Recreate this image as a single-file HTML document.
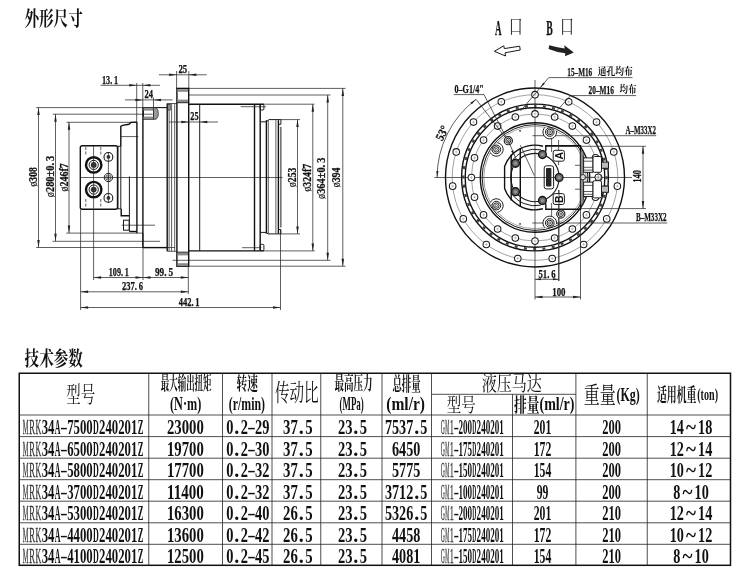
<!DOCTYPE html>
<html lang="zh"><head><meta charset="utf-8"><title>MRK34A</title><style>
html,body{margin:0;padding:0;background:#fff}
#page{filter:blur(.4px);will-change:transform;position:relative;width:748px;height:584px;background:#fff;overflow:hidden;font-family:"Liberation Serif",serif}
svg{position:absolute;left:0;top:0;overflow:visible}
svg *{vector-effect:none}
.t{stroke:#2a2a2a;stroke-width:.75;fill:none}
.t2{stroke:#444;stroke-width:.5;fill:none}
.t3{stroke:#888;stroke-width:.45;fill:none}
.m{stroke:#1c1c1c;stroke-width:1;fill:none}
.k{stroke:#111;stroke-width:1.4;fill:none}
.h{stroke:#1a1a1a;stroke-width:1.05;fill:#fff}
.n{fill:none}
.fd{fill:#333;stroke:none}
.ah{fill:#222;stroke:none}
text{font-family:"Liberation Serif",serif;fill:#111}
.cjt{font-family:"Liberation Serif","Noto Serif CJK SC",serif;fill:#111}
.cjb{font-weight:bold}
.d{font-weight:bold;stroke:#111;stroke-width:.25}
.tb{font-weight:bold}
.ph{font-weight:normal;stroke-width:.15}
.sb{font-family:"Liberation Sans",sans-serif;font-weight:bold}
.tl2{font-weight:normal;fill:#222}
.lt{font-weight:normal;fill:#333;stroke:#333;stroke-width:.3}
.lt2{font-weight:normal;fill:#444}
.tl{stroke:#222;stroke-width:.8}
</style></head>
<body><div id="page">
<svg id="art" width="748" height="584" viewBox="0 0 748 584">
<g><text class="cjt cjb" x="24.39" y="25.87" font-size="19.9" textLength="58.4" lengthAdjust="spacingAndGlyphs">外形尺寸</text><text class="cjt cjb" x="24.61" y="365.85" font-size="20.3" textLength="58.1" lengthAdjust="spacingAndGlyphs">技术参数</text></g>
<line class="t" x1="36.2" y1="107.6" x2="167.2" y2="107.6"/>
<line class="t" x1="36.2" y1="247.5" x2="175" y2="247.5"/>
<line class="t" x1="52.8" y1="114.2" x2="152.7" y2="114.2"/>
<line class="t" x1="52.6" y1="241.3" x2="160" y2="241.3"/>
<line class="t" x1="66.5" y1="122.3" x2="137" y2="122.3"/>
<line class="t" x1="66.3" y1="233.1" x2="143" y2="233.1"/>
<line class="t" x1="38.5" y1="107.6" x2="38.5" y2="247.5"/>
<path class="ah" d="M38.5 107.6L39.75 115.1L37.25 115.1Z"/>
<path class="ah" d="M38.5 247.5L37.25 240L39.75 240Z"/>
<line class="t" x1="55.5" y1="114.2" x2="55.5" y2="241.3"/>
<path class="ah" d="M55.5 114.2L56.75 121.7L54.25 121.7Z"/>
<path class="ah" d="M55.5 241.3L54.25 233.8L56.75 233.8Z"/>
<line class="t" x1="69" y1="122.3" x2="69" y2="233.1"/>
<path class="ah" d="M69 122.3L70.25 129.8L67.75 129.8Z"/>
<path class="ah" d="M69 233.1L67.75 225.6L70.25 225.6Z"/>
<text class="d" x="0" y="0" font-size="12" textLength="19.3" lengthAdjust="spacingAndGlyphs" transform="translate(36.6 186.5) rotate(-90)"><tspan class="ph">&#248;</tspan>308</text>
<text class="d" x="0" y="0" font-size="12" textLength="41.5" lengthAdjust="spacingAndGlyphs" transform="translate(53.6 197.2) rotate(-90)"><tspan class="ph">&#248;</tspan>280&#177;0.&#8201;3</text>
<text class="d" x="0" y="0" font-size="12" textLength="28.3" lengthAdjust="spacingAndGlyphs" transform="translate(67.5 191.5) rotate(-90)"><tspan class="ph">&#248;</tspan>246f7</text>
<line class="t" x1="280.9" y1="119.6" x2="300" y2="119.6"/>
<line class="t" x1="280.9" y1="233.9" x2="300" y2="233.9"/>
<line class="t" x1="263.9" y1="104.2" x2="314.5" y2="104.2"/>
<line class="t" x1="263.9" y1="250.9" x2="314.8" y2="250.9"/>
<line class="t" x1="188.8" y1="95" x2="330.5" y2="95"/>
<line class="t" x1="172.5" y1="260.3" x2="330.5" y2="260.3"/>
<line class="t" x1="188.8" y1="88.4" x2="345.5" y2="88.4"/>
<line class="t" x1="188.3" y1="266.2" x2="345.5" y2="266.2"/>
<line class="t" x1="297.5" y1="119.6" x2="297.5" y2="233.9"/>
<path class="ah" d="M297.5 119.6L298.75 127.1L296.25 127.1Z"/>
<path class="ah" d="M297.5 233.9L296.25 226.4L298.75 226.4Z"/>
<line class="t" x1="312.8" y1="104.2" x2="312.8" y2="250.9"/>
<path class="ah" d="M312.8 104.2L314.05 111.7L311.55 111.7Z"/>
<path class="ah" d="M312.8 250.9L311.55 243.4L314.05 243.4Z"/>
<line class="t" x1="327.7" y1="95" x2="327.7" y2="260.3"/>
<path class="ah" d="M327.7 95L328.95 102.5L326.45 102.5Z"/>
<path class="ah" d="M327.7 260.3L326.45 252.8L328.95 252.8Z"/>
<line class="t" x1="342.8" y1="88.4" x2="342.8" y2="266.2"/>
<path class="ah" d="M342.8 88.4L344.05 95.9L341.55 95.9Z"/>
<path class="ah" d="M342.8 266.2L341.55 258.7L344.05 258.7Z"/>
<text class="d" x="0" y="0" font-size="12" textLength="19.3" lengthAdjust="spacingAndGlyphs" transform="translate(296.3 187) rotate(-90)"><tspan class="ph">&#248;</tspan>253</text>
<text class="d" x="0" y="0" font-size="12" textLength="27.6" lengthAdjust="spacingAndGlyphs" transform="translate(310.7 191.5) rotate(-90)"><tspan class="ph">&#248;</tspan>324f7</text>
<text class="d" x="0" y="0" font-size="12" textLength="41.4" lengthAdjust="spacingAndGlyphs" transform="translate(325.2 199) rotate(-90)"><tspan class="ph">&#248;</tspan>364&#177;0.&#8201;3</text>
<text class="d" x="0" y="0" font-size="12" textLength="19.8" lengthAdjust="spacingAndGlyphs" transform="translate(340.3 187.3) rotate(-90)"><tspan class="ph">&#248;</tspan>394</text>
<line class="t" x1="176.6" y1="71" x2="176.6" y2="88.3"/>
<line class="t" x1="188.8" y1="71" x2="188.8" y2="88.3"/>
<line class="t" x1="158.9" y1="74.8" x2="206.7" y2="74.8"/>
<path class="ah" d="M176.6 74.8L169.1 76.05L169.1 73.55Z"/>
<path class="ah" d="M188.8 74.8L196.3 73.55L196.3 76.05Z"/>
<text class="d" x="178.4" y="73.3" font-size="12" textLength="8.8" lengthAdjust="spacingAndGlyphs">25</text>
<line class="t" x1="100.7" y1="85.3" x2="160" y2="85.3"/>
<line class="t" x1="136.7" y1="83" x2="136.7" y2="122"/>
<line class="t" x1="142.8" y1="83" x2="142.8" y2="108"/>
<path class="ah" d="M136.7 85.3L129.2 86.55L129.2 84.05Z"/>
<path class="ah" d="M142.8 85.3L150.3 84.05L150.3 86.55Z"/>
<text class="d" x="102" y="83.8" font-size="12" textLength="16" lengthAdjust="spacingAndGlyphs">13.&#8201;1</text>
<line class="t" x1="125" y1="99.9" x2="172.5" y2="99.9"/>
<line class="t" x1="153.5" y1="97.5" x2="153.5" y2="107.6"/>
<path class="ah" d="M142.8 99.9L135.3 101.15L135.3 98.65Z"/>
<path class="ah" d="M153.5 99.9L161 98.65L161 101.15Z"/>
<text class="d" x="144.5" y="97.7" font-size="12" textLength="8.5" lengthAdjust="spacingAndGlyphs">24</text>
<line class="t" x1="169" y1="122" x2="218" y2="122"/>
<path class="ah" d="M188.8 122L181.3 123.25L181.3 120.75Z"/>
<path class="ah" d="M199.8 122L207.3 120.75L207.3 123.25Z"/>
<text class="d" x="190.3" y="120.4" font-size="12" textLength="8.2" lengthAdjust="spacingAndGlyphs">25</text>
<line class="t" x1="80.6" y1="209.5" x2="80.6" y2="310"/>
<line class="t" x1="93.6" y1="209.5" x2="93.6" y2="280"/>
<line class="t" x1="143" y1="233" x2="143" y2="280"/>
<line class="t" x1="188.3" y1="267" x2="188.3" y2="294"/>
<line class="t" x1="280.5" y1="230" x2="280.5" y2="310"/>
<line class="t" x1="93.6" y1="277.5" x2="188.3" y2="277.5"/>
<path class="ah" d="M93.6 277.5L101.1 276.25L101.1 278.75Z"/>
<path class="ah" d="M143 277.5L135.5 278.75L135.5 276.25Z"/>
<path class="ah" d="M143 277.5L150.5 276.25L150.5 278.75Z"/>
<path class="ah" d="M188.3 277.5L180.8 278.75L180.8 276.25Z"/>
<text class="d" x="108.75" y="275.8" font-size="12" textLength="20" lengthAdjust="spacingAndGlyphs">109.&#8201;1</text>
<text class="d" x="155" y="275.8" font-size="12" textLength="18" lengthAdjust="spacingAndGlyphs">99.&#8201;5</text>
<line class="t" x1="80.6" y1="291.8" x2="188.3" y2="291.8"/>
<path class="ah" d="M80.6 291.8L88.1 290.55L88.1 293.05Z"/>
<path class="ah" d="M188.3 291.8L180.8 293.05L180.8 290.55Z"/>
<text class="d" x="122" y="290" font-size="12" textLength="21" lengthAdjust="spacingAndGlyphs">237.&#8201;6</text>
<line class="t" x1="80.6" y1="307.5" x2="280.5" y2="307.5"/>
<path class="ah" d="M80.6 307.5L88.1 306.25L88.1 308.75Z"/>
<path class="ah" d="M280.5 307.5L273 308.75L273 306.25Z"/>
<text class="d" x="178.75" y="305.6" font-size="12" textLength="20.75" lengthAdjust="spacingAndGlyphs">442.&#8201;1</text>
<line class="t" x1="80.3" y1="177.5" x2="282.5" y2="177.5"/>
<rect class="k" x="80.3" y="145.8" width="37.2" height="63.4" rx="2"/>
<line class="t" stroke-dasharray="3 1.5" x1="85.8" y1="147" x2="85.8" y2="156"/>
<line class="t" stroke-dasharray="3 1.5" x1="85.8" y1="199" x2="85.8" y2="208"/>
<line class="t" stroke-dasharray="3 1.5" x1="100.8" y1="147" x2="100.8" y2="156"/>
<line class="t" stroke-dasharray="3 1.5" x1="100.8" y1="199" x2="100.8" y2="208"/>
<line class="t" x1="93.6" y1="146" x2="93.6" y2="208.8"/>
<circle class="k" cx="93.7" cy="164.9" r="7.7" style="stroke-width:2.4"/>
<circle class="m" cx="93.7" cy="164.9" r="4.6"/>
<circle class="fd" cx="93.7" cy="164.9" r="2.9"/>
<circle class="k" cx="93.7" cy="189.6" r="7.7" style="stroke-width:2.4"/>
<circle class="m" cx="93.7" cy="189.6" r="4.6"/>
<circle class="fd" cx="93.7" cy="189.6" r="2.9"/>
<line class="t" x1="108.4" y1="152" x2="108.4" y2="203"/>
<circle class="m" cx="108.4" cy="156.9" r="4.4" style="stroke-width:1.1"/>
<circle class="fd" cx="108.4" cy="156.9" r="1.9"/>
<circle class="m" cx="108.4" cy="197.9" r="4.4" style="stroke-width:1.1"/>
<circle class="fd" cx="108.4" cy="197.9" r="1.9"/>
<circle class="m" cx="108.4" cy="177.5" r="4.2"/>
<circle class="t" cx="108.4" cy="177.5" r="2.6"/>
<circle class="t" cx="108.4" cy="177.5" r="1.1"/>
<rect class="m" x="117.9" y="146.3" width="2.9" height="62.5"/>
<path class="k" d="M120.8 146V126.3L122.6 125.3L128.9 124.3L130.8 122.4L137 122.1"/>
<line class="t" x1="120.8" y1="136.6" x2="138.3" y2="136.6"/>
<path class="k" d="M121.2 208.8V215.8H129.2"/>
<line class="m" x1="129.4" y1="176.5" x2="129.4" y2="231.5"/>
<path class="k" d="M129.4 231.5H136.9"/>
<rect class="m" x="123.5" y="220.2" width="5.7" height="10"/>
<line class="t" x1="121.6" y1="225.2" x2="155" y2="225.2"/>
<line class="k" x1="136.9" y1="122" x2="136.9" y2="233.3"/>
<line class="k" x1="142.9" y1="107.6" x2="142.9" y2="247.6"/>
<line class="k" x1="142.9" y1="247.6" x2="167" y2="247.6"/>
<line class="m" x1="153.5" y1="107.6" x2="167" y2="107.6"/>
<rect class="m" x="143.5" y="107.8" width="10" height="11.4"/>
<rect x="143.5" y="108.2" width="10" height="2.4" style="fill:#8a8a8a"/><rect x="143.5" y="116.6" width="10" height="2.4" style="fill:#8a8a8a"/>
<path class="t" d="M153.5 107.8H156.2Q158.6 110 158.4 113.5Q158.6 117 156.2 119.2H153.5Z" style="fill:#999"/>
<line class="k" x1="167.2" y1="103.5" x2="167.2" y2="251.3"/>
<line class="t" x1="169.1" y1="103.5" x2="169.1" y2="251.3"/>
<line class="t" x1="171.6" y1="103.5" x2="171.6" y2="251.3"/>
<line class="t" x1="174.7" y1="103.5" x2="174.7" y2="251.3"/>
<line class="t" x1="167.2" y1="103.5" x2="177" y2="103.5"/>
<line class="t" x1="167.2" y1="251.3" x2="177" y2="251.3"/>
<rect class="t" x="168" y="104.3" width="2.3" height="5.7"/>
<rect class="k" x="176.9" y="88.4" width="11.8" height="177.8"/>
<rect x="177.6" y="89.2" width="10.4" height="2.6" style="fill:#8a8a8a"/>
<rect x="177.6" y="99.6" width="10.4" height="2.6" style="fill:#8a8a8a"/>
<rect x="177.6" y="252.8" width="10.4" height="2.6" style="fill:#8a8a8a"/>
<rect x="177.6" y="263.2" width="10.4" height="2.6" style="fill:#8a8a8a"/>
<line class="m" x1="176.9" y1="102.7" x2="188.7" y2="102.7"/>
<line class="m" x1="176.9" y1="252.2" x2="188.7" y2="252.2"/>
<line class="k" x1="188.7" y1="104.2" x2="263.9" y2="104.2"/>
<line class="k" x1="188.7" y1="250.9" x2="263.9" y2="250.9"/>
<line class="m" x1="199.7" y1="104.2" x2="199.7" y2="250.9"/>
<line class="k" x1="254.5" y1="104.2" x2="254.5" y2="250.9"/>
<line class="k" x1="260.2" y1="104.2" x2="260.2" y2="250.9"/>
<rect class="m" x="260.2" y="104.4" width="3.7" height="5.6" rx="1"/>
<rect class="m" x="260.2" y="244.4" width="3.7" height="6.3" rx="1"/>
<line class="t" x1="240.7" y1="106.7" x2="265.8" y2="106.7"/>
<line class="t" x1="242" y1="247.7" x2="261.4" y2="247.7"/>
<path class="m" d="M260.2 121.8H266.4L269 119.6H280.9V124.3H278.4"/>
<path class="m" d="M260.2 232.4H266.4L268 233.9H280.9V229.5H278.4"/>
<line class="k" x1="266.4" y1="120.2" x2="266.4" y2="233.6"/>
<line class="t" x1="268.3" y1="120.2" x2="268.3" y2="233.6"/>
<line class="t" x1="275.9" y1="120.2" x2="275.9" y2="233.6"/>
<line class="k" x1="278.4" y1="120.2" x2="278.4" y2="233.6"/>
<line class="m" x1="280.9" y1="126.8" x2="280.9" y2="227.5"/>
<line class="t" x1="535" y1="80" x2="535" y2="299.5"/>
<line class="t" x1="434.4" y1="177.5" x2="632" y2="177.5"/>
<circle class="k" cx="535" cy="177.5" r="89.5"/>
<circle class="t2" cx="535" cy="177.5" r="82.8"/>
<circle class="k" cx="535" cy="177.5" r="73.4"/>
<circle class="k" cx="535" cy="177.5" r="69.8"/>
<circle class="t2" cx="535" cy="177.5" r="63.6"/>
<circle class="k" cx="535" cy="177.5" r="54.7" stroke-width="1.5"/>
<circle class="m" cx="535" cy="177.5" r="52.9"/>
<circle class="t2" cx="535" cy="177.5" r="51.2"/>
<circle class="n" cx="535" cy="177.5" r="71.6" stroke="#444" stroke-width="2.4" stroke-dasharray="3 6.372" stroke-dashoffset="1.5" transform="rotate(-90 535 177.5)"/>
<circle class="h" cx="535" cy="94.7" r="3.3"/>
<line class="t3" x1="533.5" y1="94.7" x2="536.5" y2="94.7"/>
<line class="t3" x1="535" y1="93.2" x2="535" y2="96.2"/>
<circle class="h" cx="568.68" cy="101.86" r="3.3"/>
<line class="t3" x1="567.18" y1="101.86" x2="570.18" y2="101.86"/>
<line class="t3" x1="568.68" y1="100.36" x2="568.68" y2="103.36"/>
<circle class="h" cx="596.53" cy="122.1" r="3.3"/>
<line class="t3" x1="595.03" y1="122.1" x2="598.03" y2="122.1"/>
<line class="t3" x1="596.53" y1="120.6" x2="596.53" y2="123.6"/>
<circle class="h" cx="613.75" cy="151.91" r="3.3"/>
<line class="t3" x1="612.25" y1="151.91" x2="615.25" y2="151.91"/>
<line class="t3" x1="613.75" y1="150.41" x2="613.75" y2="153.41"/>
<circle class="h" cx="617.35" cy="186.15" r="3.3"/>
<line class="t3" x1="615.85" y1="186.15" x2="618.85" y2="186.15"/>
<line class="t3" x1="617.35" y1="184.65" x2="617.35" y2="187.65"/>
<circle class="h" cx="606.71" cy="218.9" r="3.3"/>
<line class="t3" x1="605.21" y1="218.9" x2="608.21" y2="218.9"/>
<line class="t3" x1="606.71" y1="217.4" x2="606.71" y2="220.4"/>
<circle class="h" cx="583.67" cy="244.49" r="3.3"/>
<line class="t3" x1="582.17" y1="244.49" x2="585.17" y2="244.49"/>
<line class="t3" x1="583.67" y1="242.99" x2="583.67" y2="245.99"/>
<circle class="h" cx="552.22" cy="258.49" r="3.3"/>
<line class="t3" x1="550.72" y1="258.49" x2="553.72" y2="258.49"/>
<line class="t3" x1="552.22" y1="256.99" x2="552.22" y2="259.99"/>
<circle class="h" cx="517.78" cy="258.49" r="3.3"/>
<line class="t3" x1="516.28" y1="258.49" x2="519.28" y2="258.49"/>
<line class="t3" x1="517.78" y1="256.99" x2="517.78" y2="259.99"/>
<circle class="h" cx="486.33" cy="244.49" r="3.3"/>
<line class="t3" x1="484.83" y1="244.49" x2="487.83" y2="244.49"/>
<line class="t3" x1="486.33" y1="242.99" x2="486.33" y2="245.99"/>
<circle class="h" cx="463.29" cy="218.9" r="3.3"/>
<line class="t3" x1="461.79" y1="218.9" x2="464.79" y2="218.9"/>
<line class="t3" x1="463.29" y1="217.4" x2="463.29" y2="220.4"/>
<circle class="h" cx="452.65" cy="186.15" r="3.3"/>
<line class="t3" x1="451.15" y1="186.15" x2="454.15" y2="186.15"/>
<line class="t3" x1="452.65" y1="184.65" x2="452.65" y2="187.65"/>
<circle class="h" cx="456.25" cy="151.91" r="3.3"/>
<line class="t3" x1="454.75" y1="151.91" x2="457.75" y2="151.91"/>
<line class="t3" x1="456.25" y1="150.41" x2="456.25" y2="153.41"/>
<circle class="h" cx="473.47" cy="122.1" r="3.3"/>
<line class="t3" x1="471.97" y1="122.1" x2="474.97" y2="122.1"/>
<line class="t3" x1="473.47" y1="120.6" x2="473.47" y2="123.6"/>
<circle class="h" cx="501.32" cy="101.86" r="3.3"/>
<line class="t3" x1="499.82" y1="101.86" x2="502.82" y2="101.86"/>
<line class="t3" x1="501.32" y1="100.36" x2="501.32" y2="103.36"/>
<circle class="h" cx="535" cy="113.9" r="3.3"/>
<line class="t3" x1="533.5" y1="113.9" x2="536.5" y2="113.9"/>
<line class="t3" x1="535" y1="112.4" x2="535" y2="115.4"/>
<circle class="h" cx="554.65" cy="117.01" r="3.3"/>
<line class="t3" x1="553.15" y1="117.01" x2="556.15" y2="117.01"/>
<line class="t3" x1="554.65" y1="115.51" x2="554.65" y2="118.51"/>
<circle class="h" cx="572.38" cy="126.05" r="3.3"/>
<line class="t3" x1="570.88" y1="126.05" x2="573.88" y2="126.05"/>
<line class="t3" x1="572.38" y1="124.55" x2="572.38" y2="127.55"/>
<circle class="h" cx="586.45" cy="140.12" r="3.3"/>
<line class="t3" x1="584.95" y1="140.12" x2="587.95" y2="140.12"/>
<line class="t3" x1="586.45" y1="138.62" x2="586.45" y2="141.62"/>
<circle class="h" cx="595.49" cy="157.85" r="3.3"/>
<line class="t3" x1="593.99" y1="157.85" x2="596.99" y2="157.85"/>
<line class="t3" x1="595.49" y1="156.35" x2="595.49" y2="159.35"/>
<circle class="h" cx="598.6" cy="177.5" r="3.3"/>
<line class="t3" x1="597.1" y1="177.5" x2="600.1" y2="177.5"/>
<line class="t3" x1="598.6" y1="176" x2="598.6" y2="179"/>
<circle class="h" cx="595.49" cy="197.15" r="3.3"/>
<line class="t3" x1="593.99" y1="197.15" x2="596.99" y2="197.15"/>
<line class="t3" x1="595.49" y1="195.65" x2="595.49" y2="198.65"/>
<circle class="h" cx="586.45" cy="214.88" r="3.3"/>
<line class="t3" x1="584.95" y1="214.88" x2="587.95" y2="214.88"/>
<line class="t3" x1="586.45" y1="213.38" x2="586.45" y2="216.38"/>
<circle class="h" cx="572.38" cy="228.95" r="3.3"/>
<line class="t3" x1="570.88" y1="228.95" x2="573.88" y2="228.95"/>
<line class="t3" x1="572.38" y1="227.45" x2="572.38" y2="230.45"/>
<circle class="h" cx="554.65" cy="237.99" r="3.3"/>
<line class="t3" x1="553.15" y1="237.99" x2="556.15" y2="237.99"/>
<line class="t3" x1="554.65" y1="236.49" x2="554.65" y2="239.49"/>
<circle class="h" cx="535" cy="241.1" r="3.3"/>
<line class="t3" x1="533.5" y1="241.1" x2="536.5" y2="241.1"/>
<line class="t3" x1="535" y1="239.6" x2="535" y2="242.6"/>
<circle class="h" cx="515.35" cy="237.99" r="3.3"/>
<line class="t3" x1="513.85" y1="237.99" x2="516.85" y2="237.99"/>
<line class="t3" x1="515.35" y1="236.49" x2="515.35" y2="239.49"/>
<circle class="h" cx="497.62" cy="228.95" r="3.3"/>
<line class="t3" x1="496.12" y1="228.95" x2="499.12" y2="228.95"/>
<line class="t3" x1="497.62" y1="227.45" x2="497.62" y2="230.45"/>
<circle class="h" cx="483.55" cy="214.88" r="3.3"/>
<line class="t3" x1="482.05" y1="214.88" x2="485.05" y2="214.88"/>
<line class="t3" x1="483.55" y1="213.38" x2="483.55" y2="216.38"/>
<circle class="h" cx="474.51" cy="197.15" r="3.3"/>
<line class="t3" x1="473.01" y1="197.15" x2="476.01" y2="197.15"/>
<line class="t3" x1="474.51" y1="195.65" x2="474.51" y2="198.65"/>
<circle class="h" cx="471.4" cy="177.5" r="3.3"/>
<line class="t3" x1="469.9" y1="177.5" x2="472.9" y2="177.5"/>
<line class="t3" x1="471.4" y1="176" x2="471.4" y2="179"/>
<circle class="h" cx="474.51" cy="157.85" r="3.3"/>
<line class="t3" x1="473.01" y1="157.85" x2="476.01" y2="157.85"/>
<line class="t3" x1="474.51" y1="156.35" x2="474.51" y2="159.35"/>
<circle class="h" cx="483.55" cy="140.12" r="3.3"/>
<line class="t3" x1="482.05" y1="140.12" x2="485.05" y2="140.12"/>
<line class="t3" x1="483.55" y1="138.62" x2="483.55" y2="141.62"/>
<circle class="h" cx="497.62" cy="126.05" r="3.3"/>
<line class="t3" x1="496.12" y1="126.05" x2="499.12" y2="126.05"/>
<line class="t3" x1="497.62" y1="124.55" x2="497.62" y2="127.55"/>
<circle class="h" cx="515.35" cy="117.01" r="3.3"/>
<line class="t3" x1="513.85" y1="117.01" x2="516.85" y2="117.01"/>
<line class="t3" x1="515.35" y1="115.51" x2="515.35" y2="118.51"/>
<path class="t" d="M437.1 177.5A97.9 97.9 0 0 1 476.08 99.31"/>
<path class="ah" d="M437.1 177.5L436.34 170.95L438.54 171.07Z"/>
<path class="ah" d="M476.08 99.31L471.81 104.33L470.4 102.65Z"/>
<line class="t" x1="476.08" y1="99.31" x2="508" y2="140.9"/>
<text class="d" font-size="12" x="0" y="0" textLength="15" lengthAdjust="spacingAndGlyphs" transform="translate(442.2 141.6) rotate(-63)">53&#176;</text>
<line class="t" x1="548.75" y1="77.6" x2="632.5" y2="77.6"/>
<line class="t" x1="548.75" y1="77.6" x2="520.5" y2="111"/>
<path class="ah" d="M540.5 87.4L543.27 82.54L544.8 83.83Z"/>
<text class="d" x="567.25" y="75.8" font-size="12" textLength="25" lengthAdjust="spacingAndGlyphs">15&#8211;M16</text>
<line class="t" x1="570.5" y1="95.6" x2="636.2" y2="95.6"/>
<line class="t" x1="570.5" y1="95.6" x2="552.5" y2="115.5"/>
<text class="d" x="588.5" y="93.6" font-size="12" textLength="25.5" lengthAdjust="spacingAndGlyphs">20&#8211;M16</text>
<line class="t" x1="453.75" y1="94.6" x2="484" y2="94.6"/>
<line class="t" x1="484" y1="94.6" x2="508" y2="140.9"/>
<text class="d" x="454.5" y="92.6" font-size="12" textLength="29.25" lengthAdjust="spacingAndGlyphs">0&#8211;G1/4"</text>
<line class="t" x1="532.5" y1="135.7" x2="656.2" y2="135.7"/>
<text class="d" x="625.5" y="134.3" font-size="12" textLength="30.5" lengthAdjust="spacingAndGlyphs">A&#8211;M33X2</text>
<line class="t" x1="532.25" y1="223" x2="667.25" y2="223"/>
<text class="d" x="636" y="221.4" font-size="12" textLength="30.5" lengthAdjust="spacingAndGlyphs">B&#8211;M33X2</text>
<line class="t" x1="545.3" y1="146.3" x2="646" y2="146.3"/>
<line class="t" x1="581" y1="208.6" x2="646" y2="208.6"/>
<line class="t" x1="643" y1="146.3" x2="643" y2="208.6"/>
<path class="ah" d="M643 146.3L644.25 153.8L641.75 153.8Z"/>
<path class="ah" d="M643 208.6L641.75 201.1L644.25 201.1Z"/>
<text class="d" x="0" y="0" font-size="12" textLength="12.5" lengthAdjust="spacingAndGlyphs" transform="translate(640.9 182.5) rotate(-90)">140</text>
<line class="t" x1="559" y1="190" x2="559" y2="281"/>
<line class="t" x1="535" y1="279.3" x2="559" y2="279.3"/>
<path class="ah" d="M535 279.3L541 278.3L541 280.3Z"/>
<path class="ah" d="M559 279.3L553 280.3L553 278.3Z"/>
<text class="d" x="538.5" y="278.1" font-size="12" textLength="17" lengthAdjust="spacingAndGlyphs">51.&#8201;6</text>
<line class="t" x1="580.5" y1="207.5" x2="580.5" y2="299.5"/>
<line class="t" x1="535" y1="297" x2="580.5" y2="297"/>
<path class="ah" d="M535 297L542.5 295.75L542.5 298.25Z"/>
<path class="ah" d="M580.5 297L573 298.25L573 295.75Z"/>
<text class="d" x="552.25" y="295.8" font-size="12" textLength="13.25" lengthAdjust="spacingAndGlyphs">100</text>
<g><text class="cjt cjb" x="597.68" y="75.28" font-size="10.2" textLength="35.1" lengthAdjust="spacingAndGlyphs">通孔均布</text><text class="cjt cjb" x="619.47" y="92.78" font-size="10.2" textLength="17.06" lengthAdjust="spacingAndGlyphs">均布</text></g>
<text class="d" x="495" y="34.5" font-size="22" textLength="6.5" lengthAdjust="spacingAndGlyphs">A</text>
<text class="d" x="546.25" y="34.5" font-size="22" textLength="6.5" lengthAdjust="spacingAndGlyphs">B</text>
<g><text class="cjt" x="508.76" y="34.28" font-size="20.56" textLength="13.89" lengthAdjust="spacingAndGlyphs">口</text><text class="cjt" x="560.01" y="34.28" font-size="20.56" textLength="13.89" lengthAdjust="spacingAndGlyphs">口</text></g>
<path class="m" d="M494.3 51.3L503.8 45.8L504.3 48.6L519.7 46.2L520.2 50L505 52.8L505.6 56Z" fill="#fff"/>
<path class="n" d="M573.8 52.5L565 56.3L565.3 53.2Q557 52.5 548.6 49L549.2 45.3Q558 47.6 564.6 48.4L564.3 45.2Z" style="fill:#222"/>
<path class="k" d="M542.97 146.2A32.3 32.3 0 0 0 504.6 166.59V188.41A32.3 32.3 0 0 0 542.97 208.8"/>
<circle class="m" cx="535" cy="177.5" r="24.2" style="stroke-width:1.15"/>
<line class="t" x1="520.3" y1="145.2" x2="534.3" y2="175.6"/>
<path class="m" d="M511 162.5A28.3 28.3 0 0 1 540.88 149.82"/>
<path class="m" d="M511 192.5A28.3 28.3 0 0 0 540.88 205.18"/>
<path class="k" d="M545.8 151.5V145.8H580.5V209.2H545.8V203.5"/>
<line class="k" x1="511.2" y1="154.5" x2="511.2" y2="200.5"/>
<line class="k" x1="520.3" y1="148.5" x2="520.3" y2="206.5"/>
<circle class="k" cx="559.1" cy="177.5" r="3.9" style="stroke-width:1.3;fill:#6a6a6a"/>
<circle class="n" cx="559.1" cy="177.5" r="1.5" style="fill:#999"/>
<circle class="k" cx="542.45" cy="200.42" r="3.9" style="stroke-width:1.3;fill:#6a6a6a"/>
<circle class="n" cx="542.45" cy="200.42" r="1.5" style="fill:#999"/>
<circle class="k" cx="515.5" cy="191.67" r="3.9" style="stroke-width:1.3;fill:#6a6a6a"/>
<circle class="n" cx="515.5" cy="191.67" r="1.5" style="fill:#999"/>
<circle class="k" cx="515.5" cy="163.33" r="3.9" style="stroke-width:1.3;fill:#6a6a6a"/>
<circle class="n" cx="515.5" cy="163.33" r="1.5" style="fill:#999"/>
<circle class="k" cx="542.45" cy="154.58" r="3.9" style="stroke-width:1.3;fill:#6a6a6a"/>
<circle class="n" cx="542.45" cy="154.58" r="1.5" style="fill:#999"/>
<rect class="m" x="544.2" y="165.8" width="9.4" height="23.1" rx="2.2"/>
<rect x="546" y="168.1" width="5.4" height="18.5" rx=".8" style="fill:#262626"/>
<rect class="m" x="553.2" y="150.3" width="11.2" height="10.9" rx="2"/>
<rect class="m" x="553.2" y="193.6" width="11.2" height="10.9" rx="2"/>
<text class="sb" font-size="10.5" x="0" y="0" transform="translate(562.6 159.6) rotate(-90)">A</text><text class="sb" font-size="10.5" x="0" y="0" transform="translate(562.6 202.9) rotate(-90)">B</text>
<line class="t" x1="558.6" y1="140" x2="558.6" y2="150.3"/>
<line class="t" x1="558.6" y1="161.2" x2="558.6" y2="165"/>
<line class="t" x1="558.6" y1="190" x2="558.6" y2="193.6"/>
<line class="t" x1="558.6" y1="204.5" x2="558.6" y2="281"/>
<line class="t" x1="551.6" y1="132" x2="551.6" y2="152"/>
<line class="t" x1="551.6" y1="203" x2="551.6" y2="223"/>
<line class="t" x1="575" y1="165.3" x2="583.6" y2="165.3"/>
<line class="t" x1="575" y1="189.2" x2="583.6" y2="189.2"/>
<rect x="519.3" y="130.1" width="1.5" height="1.5" style="fill:#222"/><rect x="519.3" y="223.2" width="1.5" height="1.5" style="fill:#222"/>
<path class="m" d="M556.5 131.03A6.8 6.8 0 1 1 544.92 127.27" style="fill:#fff"/>
<circle class="m" cx="549.77" cy="132.04" r="4.3"/>
<circle class="m" cx="549.77" cy="132.04" r="2.7"/>
<circle class="t" cx="549.77" cy="132.04" r="1.1"/>
<path class="m" d="M544.92 227.73A6.8 6.8 0 1 1 556.5 223.97" style="fill:#fff"/>
<circle class="m" cx="549.77" cy="222.96" r="4.3"/>
<circle class="m" cx="549.77" cy="222.96" r="2.7"/>
<circle class="t" cx="549.77" cy="222.96" r="1.1"/>
<path class="m" d="M490.3 202.46A6.8 6.8 0 1 1 497.45 212.3" style="fill:#fff"/>
<circle class="m" cx="496.33" cy="205.6" r="4.3"/>
<circle class="m" cx="496.33" cy="205.6" r="2.7"/>
<circle class="t" cx="496.33" cy="205.6" r="1.1"/>
<path class="m" d="M497.45 142.7A6.8 6.8 0 1 1 490.3 152.54" style="fill:#fff"/>
<circle class="m" cx="496.33" cy="149.4" r="4.3"/>
<circle class="m" cx="496.33" cy="149.4" r="2.7"/>
<circle class="t" cx="496.33" cy="149.4" r="1.1"/>
<circle class="m" cx="508.3" cy="140.7" r="4.1" style="stroke-width:1.15;fill:#fff"/>
<circle class="m" cx="508.3" cy="140.7" r="2.5"/>
<circle class="t" cx="508.3" cy="140.7" r="1"/>
<circle class="m" cx="560.8" cy="214" r="4.1" style="stroke-width:1.15;fill:#fff"/>
<circle class="m" cx="560.8" cy="214" r="2.5"/>
<circle class="t" cx="560.8" cy="214" r="1"/>
<line class="t" x1="508.3" y1="140.7" x2="516.6" y2="160.3"/>
<path class="ah" d="M514.6 155.6L511.08 151.23L513.04 150.21Z"/>
<rect class="t" x="580.7" y="151" width="2.5" height="53" style="fill:#9a9a9a"/>
<rect class="m" x="583.6" y="157.9" width="9.4" height="14.4" style="fill:#fff"/>
<rect class="m" x="593" y="156.5" width="8.5" height="15.8" rx="1.5" style="fill:#fff"/>
<line class="t" x1="583.6" y1="161.2" x2="593" y2="161.2"/>
<line class="t" x1="583.6" y1="167.3" x2="593" y2="167.3"/>
<line class="t" x1="583.6" y1="170.1" x2="593" y2="170.1"/>
<rect class="m" x="601.5" y="162.1" width="7" height="6.2" style="fill:#bbb"/>
<rect class="m" x="583.6" y="182.1" width="9.4" height="14.4" style="fill:#fff"/>
<rect class="m" x="593" y="180.7" width="8.5" height="17.2" rx="1.5" style="fill:#fff"/>
<line class="t" x1="583.6" y1="185.4" x2="593" y2="185.4"/>
<line class="t" x1="583.6" y1="191.5" x2="593" y2="191.5"/>
<line class="t" x1="583.6" y1="194.3" x2="593" y2="194.3"/>
<rect class="m" x="601.5" y="186.1" width="7" height="6.2" style="fill:#bbb"/>
<circle class="m" cx="598.2" cy="177.2" r="3.3" style="fill:#fff"/>
<circle class="m" cx="582.9" cy="177.2" r="2.6" style="fill:#fff"/>
<line class="t2" x1="580" y1="177.2" x2="602" y2="177.2"/>
<line class="t2" x1="598.2" y1="174.6" x2="598.2" y2="179.8"/>
</svg>
<svg class="tsvg" width="748" height="584" viewBox="0 0 748 584">
<rect x="19.25" y="373.25" width="711.25" height="192.05" fill="none" stroke="#111" stroke-width="1.5"/>
<line class="tl" x1="19.25" y1="415" x2="730.5" y2="415"/>
<line class="tl" x1="19.25" y1="436.6" x2="730.5" y2="436.6"/>
<line class="tl" x1="19.25" y1="458.2" x2="730.5" y2="458.2"/>
<line class="tl" x1="19.25" y1="479.7" x2="730.5" y2="479.7"/>
<line class="tl" x1="19.25" y1="501.2" x2="730.5" y2="501.2"/>
<line class="tl" x1="19.25" y1="522.8" x2="730.5" y2="522.8"/>
<line class="tl" x1="19.25" y1="544.3" x2="730.5" y2="544.3"/>
<line class="tl" x1="148.75" y1="373.25" x2="148.75" y2="565.3"/>
<line class="tl" x1="222.5" y1="373.25" x2="222.5" y2="565.3"/>
<line class="tl" x1="272" y1="373.25" x2="272" y2="565.3"/>
<line class="tl" x1="320.75" y1="373.25" x2="320.75" y2="565.3"/>
<line class="tl" x1="382" y1="373.25" x2="382" y2="565.3"/>
<line class="tl" x1="431.5" y1="373.25" x2="431.5" y2="565.3"/>
<line class="tl" x1="512.5" y1="394.3" x2="512.5" y2="565.3"/>
<line class="tl" x1="575.9" y1="373.25" x2="575.9" y2="565.3"/>
<line class="tl" x1="647.25" y1="373.25" x2="647.25" y2="565.3"/>
<line class="tl" x1="431.5" y1="394.3" x2="575.9" y2="394.3"/>
<g>
<text class="cjt" x="66.24" y="401.65" font-size="21.04" textLength="28.86" lengthAdjust="spacingAndGlyphs">型号</text>
<text class="cjt cjb" x="160.76" y="390.45" font-size="19" textLength="50.76" lengthAdjust="spacingAndGlyphs">最大输出扭矩</text>
<text class="cjt cjb" x="236.5" y="390.41" font-size="18.68" textLength="21.26" lengthAdjust="spacingAndGlyphs">转速</text>
<text class="cjt" x="275.02" y="401.43" font-size="23.45" textLength="43.65" lengthAdjust="spacingAndGlyphs">传动比</text>
<text class="cjt cjb" x="334.45" y="390.47" font-size="18.78" textLength="37.96" lengthAdjust="spacingAndGlyphs">最高压力</text>
<text class="cjt cjb" x="392.39" y="390.61" font-size="18.94" textLength="28.17" lengthAdjust="spacingAndGlyphs">总排量</text>
<text class="cjt" x="481.7" y="391.16" font-size="20" textLength="60.04" lengthAdjust="spacingAndGlyphs">液压马达</text>
<text class="cjt" x="446.74" y="411.79" font-size="19.64" textLength="28.86" lengthAdjust="spacingAndGlyphs">型号</text>
<text class="cjt cjb" x="514.11" y="411.81" font-size="19.4" textLength="25.4" lengthAdjust="spacingAndGlyphs">排量</text>
<text class="cjt" x="583.87" y="403.48" font-size="22.96" textLength="31.92" lengthAdjust="spacingAndGlyphs">重量</text>
<text class="cjt cjb" x="656.95" y="401.75" font-size="19.08" textLength="39.48" lengthAdjust="spacingAndGlyphs">适用机重</text>
</g>
<text class="tb" x="170" y="410.3" font-size="19" textLength="31.25" lengthAdjust="spacingAndGlyphs">(N&#183;m)</text>
<text class="tb" x="228.75" y="410.3" font-size="19" textLength="36.25" lengthAdjust="spacingAndGlyphs">(r/min)</text>
<text class="tb" x="339.5" y="410.3" font-size="19" textLength="24.25" lengthAdjust="spacingAndGlyphs">(MPa)</text>
<text class="tb" x="386.25" y="410.3" font-size="19" textLength="38.75" lengthAdjust="spacingAndGlyphs">(ml/r)</text>
<text class="tb" x="539.5" y="410.3" font-size="19" textLength="35" lengthAdjust="spacingAndGlyphs">(ml/r)</text>
<text class="tb" x="616.5" y="401" font-size="19" textLength="23.25" lengthAdjust="spacingAndGlyphs">(Kg)</text>
<text class="tb" x="697.25" y="400" font-size="17" textLength="20.75" lengthAdjust="spacingAndGlyphs">(ton)</text>
<text class="tb" y="433.9" font-size="20"><tspan class="lt" x="22.81" textLength="5.74" lengthAdjust="spacingAndGlyphs">M</tspan><tspan class="lt" x="29.19" textLength="5.74" lengthAdjust="spacingAndGlyphs">R</tspan><tspan class="lt" x="35.57" textLength="5.74" lengthAdjust="spacingAndGlyphs">K</tspan><tspan x="41.63" textLength="12.76" lengthAdjust="spacingAndGlyphs">34</tspan><tspan x="54.71" textLength="5.74" lengthAdjust="spacingAndGlyphs">A</tspan><tspan x="61.09" textLength="5.74" lengthAdjust="spacingAndGlyphs">&#8211;</tspan><tspan x="67.15" textLength="25.52" lengthAdjust="spacingAndGlyphs">7500</tspan><tspan x="92.99" textLength="5.74" lengthAdjust="spacingAndGlyphs">D</tspan><tspan x="99.05" textLength="38.28" lengthAdjust="spacingAndGlyphs">240201</tspan><tspan x="137.65" textLength="5.74" lengthAdjust="spacingAndGlyphs">Z</tspan></text>
<text class="tb" y="433.9" font-size="20"><tspan x="167.03" textLength="36.75" lengthAdjust="spacingAndGlyphs">23000</tspan></text>
<text class="tb" y="433.9" font-size="20"><tspan x="226.3" textLength="7.2" lengthAdjust="spacingAndGlyphs">0</tspan><tspan x="234.36">.</tspan><tspan x="240.7" textLength="7.2" lengthAdjust="spacingAndGlyphs">2</tspan><tspan x="248.26" textLength="6.48" lengthAdjust="spacingAndGlyphs">&#8211;</tspan><tspan x="255.1" textLength="14.4" lengthAdjust="spacingAndGlyphs">29</tspan></text>
<text class="tb" y="433.9" font-size="20"><tspan x="283.04" textLength="14.76" lengthAdjust="spacingAndGlyphs">37</tspan><tspan x="298.69">.</tspan><tspan x="305.18" textLength="7.38" lengthAdjust="spacingAndGlyphs">5</tspan></text>
<text class="tb" y="433.9" font-size="20"><tspan x="338" textLength="14.5" lengthAdjust="spacingAndGlyphs">23</tspan><tspan x="353.37">.</tspan><tspan x="359.75" textLength="7.25" lengthAdjust="spacingAndGlyphs">5</tspan></text>
<text class="tb" y="433.9" font-size="20"><tspan x="384.96" textLength="28.32" lengthAdjust="spacingAndGlyphs">7537</tspan><tspan x="414.13">.</tspan><tspan x="420.36" textLength="7.08" lengthAdjust="spacingAndGlyphs">5</tspan></text>
<text class="tb" y="433.9" font-size="20"><tspan class="lt" x="440.69" textLength="4.07" lengthAdjust="spacingAndGlyphs">G</tspan><tspan class="lt" x="445.21" textLength="4.07" lengthAdjust="spacingAndGlyphs">M</tspan><tspan class="lt" x="449.73" textLength="4.07" lengthAdjust="spacingAndGlyphs">1</tspan><tspan x="454.25" textLength="4.07" lengthAdjust="spacingAndGlyphs">&#8211;</tspan><tspan x="458.54" textLength="13.56" lengthAdjust="spacingAndGlyphs">200</tspan><tspan x="472.33" textLength="4.07" lengthAdjust="spacingAndGlyphs">D</tspan><tspan x="476.62" textLength="27.12" lengthAdjust="spacingAndGlyphs">240201</tspan></text>
<text class="tb" y="433.9" font-size="20"><tspan x="533.73" textLength="17.55" lengthAdjust="spacingAndGlyphs">201</tspan></text>
<text class="tb" y="433.9" font-size="20"><tspan x="602.23" textLength="18.75" lengthAdjust="spacingAndGlyphs">200</tspan></text>
<text class="tb" y="433.9" font-size="20"><tspan x="669.7" textLength="14.2" lengthAdjust="spacingAndGlyphs">14</tspan><tspan x="686.03" textLength="9.94" lengthAdjust="spacingAndGlyphs">~</tspan><tspan x="698.1" textLength="14.2" lengthAdjust="spacingAndGlyphs">18</tspan></text>
<text class="tb" y="455.5" font-size="20"><tspan class="lt" x="22.81" textLength="5.74" lengthAdjust="spacingAndGlyphs">M</tspan><tspan class="lt" x="29.19" textLength="5.74" lengthAdjust="spacingAndGlyphs">R</tspan><tspan class="lt" x="35.57" textLength="5.74" lengthAdjust="spacingAndGlyphs">K</tspan><tspan x="41.63" textLength="12.76" lengthAdjust="spacingAndGlyphs">34</tspan><tspan x="54.71" textLength="5.74" lengthAdjust="spacingAndGlyphs">A</tspan><tspan x="61.09" textLength="5.74" lengthAdjust="spacingAndGlyphs">&#8211;</tspan><tspan x="67.15" textLength="25.52" lengthAdjust="spacingAndGlyphs">6500</tspan><tspan x="92.99" textLength="5.74" lengthAdjust="spacingAndGlyphs">D</tspan><tspan x="99.05" textLength="38.28" lengthAdjust="spacingAndGlyphs">240201</tspan><tspan x="137.65" textLength="5.74" lengthAdjust="spacingAndGlyphs">Z</tspan></text>
<text class="tb" y="455.5" font-size="20"><tspan x="167.03" textLength="36.75" lengthAdjust="spacingAndGlyphs">19700</tspan></text>
<text class="tb" y="455.5" font-size="20"><tspan x="226.3" textLength="7.2" lengthAdjust="spacingAndGlyphs">0</tspan><tspan x="234.36">.</tspan><tspan x="240.7" textLength="7.2" lengthAdjust="spacingAndGlyphs">2</tspan><tspan x="248.26" textLength="6.48" lengthAdjust="spacingAndGlyphs">&#8211;</tspan><tspan x="255.1" textLength="14.4" lengthAdjust="spacingAndGlyphs">30</tspan></text>
<text class="tb" y="455.5" font-size="20"><tspan x="283.04" textLength="14.76" lengthAdjust="spacingAndGlyphs">37</tspan><tspan x="298.69">.</tspan><tspan x="305.18" textLength="7.38" lengthAdjust="spacingAndGlyphs">5</tspan></text>
<text class="tb" y="455.5" font-size="20"><tspan x="338" textLength="14.5" lengthAdjust="spacingAndGlyphs">23</tspan><tspan x="353.37">.</tspan><tspan x="359.75" textLength="7.25" lengthAdjust="spacingAndGlyphs">5</tspan></text>
<text class="tb" y="455.5" font-size="20"><tspan x="392.04" textLength="28.32" lengthAdjust="spacingAndGlyphs">6450</tspan></text>
<text class="tb" y="455.5" font-size="20"><tspan class="lt" x="440.69" textLength="4.07" lengthAdjust="spacingAndGlyphs">G</tspan><tspan class="lt" x="445.21" textLength="4.07" lengthAdjust="spacingAndGlyphs">M</tspan><tspan class="lt" x="449.73" textLength="4.07" lengthAdjust="spacingAndGlyphs">1</tspan><tspan x="454.25" textLength="4.07" lengthAdjust="spacingAndGlyphs">&#8211;</tspan><tspan x="458.54" textLength="13.56" lengthAdjust="spacingAndGlyphs">175</tspan><tspan x="472.33" textLength="4.07" lengthAdjust="spacingAndGlyphs">D</tspan><tspan x="476.62" textLength="27.12" lengthAdjust="spacingAndGlyphs">240201</tspan></text>
<text class="tb" y="455.5" font-size="20"><tspan x="533.73" textLength="17.55" lengthAdjust="spacingAndGlyphs">172</tspan></text>
<text class="tb" y="455.5" font-size="20"><tspan x="602.23" textLength="18.75" lengthAdjust="spacingAndGlyphs">200</tspan></text>
<text class="tb" y="455.5" font-size="20"><tspan x="669.7" textLength="14.2" lengthAdjust="spacingAndGlyphs">12</tspan><tspan x="686.03" textLength="9.94" lengthAdjust="spacingAndGlyphs">~</tspan><tspan x="698.1" textLength="14.2" lengthAdjust="spacingAndGlyphs">14</tspan></text>
<text class="tb" y="477.1" font-size="20"><tspan class="lt" x="22.81" textLength="5.74" lengthAdjust="spacingAndGlyphs">M</tspan><tspan class="lt" x="29.19" textLength="5.74" lengthAdjust="spacingAndGlyphs">R</tspan><tspan class="lt" x="35.57" textLength="5.74" lengthAdjust="spacingAndGlyphs">K</tspan><tspan x="41.63" textLength="12.76" lengthAdjust="spacingAndGlyphs">34</tspan><tspan x="54.71" textLength="5.74" lengthAdjust="spacingAndGlyphs">A</tspan><tspan x="61.09" textLength="5.74" lengthAdjust="spacingAndGlyphs">&#8211;</tspan><tspan x="67.15" textLength="25.52" lengthAdjust="spacingAndGlyphs">5800</tspan><tspan x="92.99" textLength="5.74" lengthAdjust="spacingAndGlyphs">D</tspan><tspan x="99.05" textLength="38.28" lengthAdjust="spacingAndGlyphs">240201</tspan><tspan x="137.65" textLength="5.74" lengthAdjust="spacingAndGlyphs">Z</tspan></text>
<text class="tb" y="477.1" font-size="20"><tspan x="167.03" textLength="36.75" lengthAdjust="spacingAndGlyphs">17700</tspan></text>
<text class="tb" y="477.1" font-size="20"><tspan x="226.3" textLength="7.2" lengthAdjust="spacingAndGlyphs">0</tspan><tspan x="234.36">.</tspan><tspan x="240.7" textLength="7.2" lengthAdjust="spacingAndGlyphs">2</tspan><tspan x="248.26" textLength="6.48" lengthAdjust="spacingAndGlyphs">&#8211;</tspan><tspan x="255.1" textLength="14.4" lengthAdjust="spacingAndGlyphs">32</tspan></text>
<text class="tb" y="477.1" font-size="20"><tspan x="283.04" textLength="14.76" lengthAdjust="spacingAndGlyphs">37</tspan><tspan x="298.69">.</tspan><tspan x="305.18" textLength="7.38" lengthAdjust="spacingAndGlyphs">5</tspan></text>
<text class="tb" y="477.1" font-size="20"><tspan x="338" textLength="14.5" lengthAdjust="spacingAndGlyphs">23</tspan><tspan x="353.37">.</tspan><tspan x="359.75" textLength="7.25" lengthAdjust="spacingAndGlyphs">5</tspan></text>
<text class="tb" y="477.1" font-size="20"><tspan x="392.04" textLength="28.32" lengthAdjust="spacingAndGlyphs">5775</tspan></text>
<text class="tb" y="477.1" font-size="20"><tspan class="lt" x="440.69" textLength="4.07" lengthAdjust="spacingAndGlyphs">G</tspan><tspan class="lt" x="445.21" textLength="4.07" lengthAdjust="spacingAndGlyphs">M</tspan><tspan class="lt" x="449.73" textLength="4.07" lengthAdjust="spacingAndGlyphs">1</tspan><tspan x="454.25" textLength="4.07" lengthAdjust="spacingAndGlyphs">&#8211;</tspan><tspan x="458.54" textLength="13.56" lengthAdjust="spacingAndGlyphs">150</tspan><tspan x="472.33" textLength="4.07" lengthAdjust="spacingAndGlyphs">D</tspan><tspan x="476.62" textLength="27.12" lengthAdjust="spacingAndGlyphs">240201</tspan></text>
<text class="tb" y="477.1" font-size="20"><tspan x="533.73" textLength="17.55" lengthAdjust="spacingAndGlyphs">154</tspan></text>
<text class="tb" y="477.1" font-size="20"><tspan x="602.23" textLength="18.75" lengthAdjust="spacingAndGlyphs">200</tspan></text>
<text class="tb" y="477.1" font-size="20"><tspan x="669.7" textLength="14.2" lengthAdjust="spacingAndGlyphs">10</tspan><tspan x="686.03" textLength="9.94" lengthAdjust="spacingAndGlyphs">~</tspan><tspan x="698.1" textLength="14.2" lengthAdjust="spacingAndGlyphs">12</tspan></text>
<text class="tb" y="498.6" font-size="20"><tspan class="lt" x="22.81" textLength="5.74" lengthAdjust="spacingAndGlyphs">M</tspan><tspan class="lt" x="29.19" textLength="5.74" lengthAdjust="spacingAndGlyphs">R</tspan><tspan class="lt" x="35.57" textLength="5.74" lengthAdjust="spacingAndGlyphs">K</tspan><tspan x="41.63" textLength="12.76" lengthAdjust="spacingAndGlyphs">34</tspan><tspan x="54.71" textLength="5.74" lengthAdjust="spacingAndGlyphs">A</tspan><tspan x="61.09" textLength="5.74" lengthAdjust="spacingAndGlyphs">&#8211;</tspan><tspan x="67.15" textLength="25.52" lengthAdjust="spacingAndGlyphs">3700</tspan><tspan x="92.99" textLength="5.74" lengthAdjust="spacingAndGlyphs">D</tspan><tspan x="99.05" textLength="38.28" lengthAdjust="spacingAndGlyphs">240201</tspan><tspan x="137.65" textLength="5.74" lengthAdjust="spacingAndGlyphs">Z</tspan></text>
<text class="tb" y="498.6" font-size="20"><tspan x="167.03" textLength="36.75" lengthAdjust="spacingAndGlyphs">11400</tspan></text>
<text class="tb" y="498.6" font-size="20"><tspan x="226.3" textLength="7.2" lengthAdjust="spacingAndGlyphs">0</tspan><tspan x="234.36">.</tspan><tspan x="240.7" textLength="7.2" lengthAdjust="spacingAndGlyphs">2</tspan><tspan x="248.26" textLength="6.48" lengthAdjust="spacingAndGlyphs">&#8211;</tspan><tspan x="255.1" textLength="14.4" lengthAdjust="spacingAndGlyphs">32</tspan></text>
<text class="tb" y="498.6" font-size="20"><tspan x="283.04" textLength="14.76" lengthAdjust="spacingAndGlyphs">37</tspan><tspan x="298.69">.</tspan><tspan x="305.18" textLength="7.38" lengthAdjust="spacingAndGlyphs">5</tspan></text>
<text class="tb" y="498.6" font-size="20"><tspan x="338" textLength="14.5" lengthAdjust="spacingAndGlyphs">23</tspan><tspan x="353.37">.</tspan><tspan x="359.75" textLength="7.25" lengthAdjust="spacingAndGlyphs">5</tspan></text>
<text class="tb" y="498.6" font-size="20"><tspan x="384.96" textLength="28.32" lengthAdjust="spacingAndGlyphs">3712</tspan><tspan x="414.13">.</tspan><tspan x="420.36" textLength="7.08" lengthAdjust="spacingAndGlyphs">5</tspan></text>
<text class="tb" y="498.6" font-size="20"><tspan class="lt" x="440.69" textLength="4.07" lengthAdjust="spacingAndGlyphs">G</tspan><tspan class="lt" x="445.21" textLength="4.07" lengthAdjust="spacingAndGlyphs">M</tspan><tspan class="lt" x="449.73" textLength="4.07" lengthAdjust="spacingAndGlyphs">1</tspan><tspan x="454.25" textLength="4.07" lengthAdjust="spacingAndGlyphs">&#8211;</tspan><tspan x="458.54" textLength="13.56" lengthAdjust="spacingAndGlyphs">100</tspan><tspan x="472.33" textLength="4.07" lengthAdjust="spacingAndGlyphs">D</tspan><tspan x="476.62" textLength="27.12" lengthAdjust="spacingAndGlyphs">240201</tspan></text>
<text class="tb" y="498.6" font-size="20"><tspan x="536.65" textLength="11.7" lengthAdjust="spacingAndGlyphs">99</tspan></text>
<text class="tb" y="498.6" font-size="20"><tspan x="602.23" textLength="18.75" lengthAdjust="spacingAndGlyphs">200</tspan></text>
<text class="tb" y="498.6" font-size="20"><tspan x="673.25" textLength="7.1" lengthAdjust="spacingAndGlyphs">8</tspan><tspan x="682.48" textLength="9.94" lengthAdjust="spacingAndGlyphs">~</tspan><tspan x="694.55" textLength="14.2" lengthAdjust="spacingAndGlyphs">10</tspan></text>
<text class="tb" y="520.1" font-size="20"><tspan class="lt" x="22.81" textLength="5.74" lengthAdjust="spacingAndGlyphs">M</tspan><tspan class="lt" x="29.19" textLength="5.74" lengthAdjust="spacingAndGlyphs">R</tspan><tspan class="lt" x="35.57" textLength="5.74" lengthAdjust="spacingAndGlyphs">K</tspan><tspan x="41.63" textLength="12.76" lengthAdjust="spacingAndGlyphs">34</tspan><tspan x="54.71" textLength="5.74" lengthAdjust="spacingAndGlyphs">A</tspan><tspan x="61.09" textLength="5.74" lengthAdjust="spacingAndGlyphs">&#8211;</tspan><tspan x="67.15" textLength="25.52" lengthAdjust="spacingAndGlyphs">5300</tspan><tspan x="92.99" textLength="5.74" lengthAdjust="spacingAndGlyphs">D</tspan><tspan x="99.05" textLength="38.28" lengthAdjust="spacingAndGlyphs">240201</tspan><tspan x="137.65" textLength="5.74" lengthAdjust="spacingAndGlyphs">Z</tspan></text>
<text class="tb" y="520.1" font-size="20"><tspan x="167.03" textLength="36.75" lengthAdjust="spacingAndGlyphs">16300</tspan></text>
<text class="tb" y="520.1" font-size="20"><tspan x="226.3" textLength="7.2" lengthAdjust="spacingAndGlyphs">0</tspan><tspan x="234.36">.</tspan><tspan x="240.7" textLength="7.2" lengthAdjust="spacingAndGlyphs">2</tspan><tspan x="248.26" textLength="6.48" lengthAdjust="spacingAndGlyphs">&#8211;</tspan><tspan x="255.1" textLength="14.4" lengthAdjust="spacingAndGlyphs">40</tspan></text>
<text class="tb" y="520.1" font-size="20"><tspan x="283.04" textLength="14.76" lengthAdjust="spacingAndGlyphs">26</tspan><tspan x="298.69">.</tspan><tspan x="305.18" textLength="7.38" lengthAdjust="spacingAndGlyphs">5</tspan></text>
<text class="tb" y="520.1" font-size="20"><tspan x="338" textLength="14.5" lengthAdjust="spacingAndGlyphs">23</tspan><tspan x="353.37">.</tspan><tspan x="359.75" textLength="7.25" lengthAdjust="spacingAndGlyphs">5</tspan></text>
<text class="tb" y="520.1" font-size="20"><tspan x="384.96" textLength="28.32" lengthAdjust="spacingAndGlyphs">5326</tspan><tspan x="414.13">.</tspan><tspan x="420.36" textLength="7.08" lengthAdjust="spacingAndGlyphs">5</tspan></text>
<text class="tb" y="520.1" font-size="20"><tspan class="lt" x="440.69" textLength="4.07" lengthAdjust="spacingAndGlyphs">G</tspan><tspan class="lt" x="445.21" textLength="4.07" lengthAdjust="spacingAndGlyphs">M</tspan><tspan class="lt" x="449.73" textLength="4.07" lengthAdjust="spacingAndGlyphs">1</tspan><tspan x="454.25" textLength="4.07" lengthAdjust="spacingAndGlyphs">&#8211;</tspan><tspan x="458.54" textLength="13.56" lengthAdjust="spacingAndGlyphs">200</tspan><tspan x="472.33" textLength="4.07" lengthAdjust="spacingAndGlyphs">D</tspan><tspan x="476.62" textLength="27.12" lengthAdjust="spacingAndGlyphs">240201</tspan></text>
<text class="tb" y="520.1" font-size="20"><tspan x="533.73" textLength="17.55" lengthAdjust="spacingAndGlyphs">201</tspan></text>
<text class="tb" y="520.1" font-size="20"><tspan x="602.23" textLength="18.75" lengthAdjust="spacingAndGlyphs">210</tspan></text>
<text class="tb" y="520.1" font-size="20"><tspan x="669.7" textLength="14.2" lengthAdjust="spacingAndGlyphs">12</tspan><tspan x="686.03" textLength="9.94" lengthAdjust="spacingAndGlyphs">~</tspan><tspan x="698.1" textLength="14.2" lengthAdjust="spacingAndGlyphs">14</tspan></text>
<text class="tb" y="541.7" font-size="20"><tspan class="lt" x="22.81" textLength="5.74" lengthAdjust="spacingAndGlyphs">M</tspan><tspan class="lt" x="29.19" textLength="5.74" lengthAdjust="spacingAndGlyphs">R</tspan><tspan class="lt" x="35.57" textLength="5.74" lengthAdjust="spacingAndGlyphs">K</tspan><tspan x="41.63" textLength="12.76" lengthAdjust="spacingAndGlyphs">34</tspan><tspan x="54.71" textLength="5.74" lengthAdjust="spacingAndGlyphs">A</tspan><tspan x="61.09" textLength="5.74" lengthAdjust="spacingAndGlyphs">&#8211;</tspan><tspan x="67.15" textLength="25.52" lengthAdjust="spacingAndGlyphs">4400</tspan><tspan x="92.99" textLength="5.74" lengthAdjust="spacingAndGlyphs">D</tspan><tspan x="99.05" textLength="38.28" lengthAdjust="spacingAndGlyphs">240201</tspan><tspan x="137.65" textLength="5.74" lengthAdjust="spacingAndGlyphs">Z</tspan></text>
<text class="tb" y="541.7" font-size="20"><tspan x="167.03" textLength="36.75" lengthAdjust="spacingAndGlyphs">13600</tspan></text>
<text class="tb" y="541.7" font-size="20"><tspan x="226.3" textLength="7.2" lengthAdjust="spacingAndGlyphs">0</tspan><tspan x="234.36">.</tspan><tspan x="240.7" textLength="7.2" lengthAdjust="spacingAndGlyphs">2</tspan><tspan x="248.26" textLength="6.48" lengthAdjust="spacingAndGlyphs">&#8211;</tspan><tspan x="255.1" textLength="14.4" lengthAdjust="spacingAndGlyphs">42</tspan></text>
<text class="tb" y="541.7" font-size="20"><tspan x="283.04" textLength="14.76" lengthAdjust="spacingAndGlyphs">26</tspan><tspan x="298.69">.</tspan><tspan x="305.18" textLength="7.38" lengthAdjust="spacingAndGlyphs">5</tspan></text>
<text class="tb" y="541.7" font-size="20"><tspan x="338" textLength="14.5" lengthAdjust="spacingAndGlyphs">23</tspan><tspan x="353.37">.</tspan><tspan x="359.75" textLength="7.25" lengthAdjust="spacingAndGlyphs">5</tspan></text>
<text class="tb" y="541.7" font-size="20"><tspan x="392.04" textLength="28.32" lengthAdjust="spacingAndGlyphs">4458</tspan></text>
<text class="tb" y="541.7" font-size="20"><tspan class="lt" x="440.69" textLength="4.07" lengthAdjust="spacingAndGlyphs">G</tspan><tspan class="lt" x="445.21" textLength="4.07" lengthAdjust="spacingAndGlyphs">M</tspan><tspan class="lt" x="449.73" textLength="4.07" lengthAdjust="spacingAndGlyphs">1</tspan><tspan x="454.25" textLength="4.07" lengthAdjust="spacingAndGlyphs">&#8211;</tspan><tspan x="458.54" textLength="13.56" lengthAdjust="spacingAndGlyphs">175</tspan><tspan x="472.33" textLength="4.07" lengthAdjust="spacingAndGlyphs">D</tspan><tspan x="476.62" textLength="27.12" lengthAdjust="spacingAndGlyphs">240201</tspan></text>
<text class="tb" y="541.7" font-size="20"><tspan x="533.73" textLength="17.55" lengthAdjust="spacingAndGlyphs">172</tspan></text>
<text class="tb" y="541.7" font-size="20"><tspan x="602.23" textLength="18.75" lengthAdjust="spacingAndGlyphs">210</tspan></text>
<text class="tb" y="541.7" font-size="20"><tspan x="669.7" textLength="14.2" lengthAdjust="spacingAndGlyphs">10</tspan><tspan x="686.03" textLength="9.94" lengthAdjust="spacingAndGlyphs">~</tspan><tspan x="698.1" textLength="14.2" lengthAdjust="spacingAndGlyphs">12</tspan></text>
<text class="tb" y="563.2" font-size="20"><tspan class="lt" x="22.81" textLength="5.74" lengthAdjust="spacingAndGlyphs">M</tspan><tspan class="lt" x="29.19" textLength="5.74" lengthAdjust="spacingAndGlyphs">R</tspan><tspan class="lt" x="35.57" textLength="5.74" lengthAdjust="spacingAndGlyphs">K</tspan><tspan x="41.63" textLength="12.76" lengthAdjust="spacingAndGlyphs">34</tspan><tspan x="54.71" textLength="5.74" lengthAdjust="spacingAndGlyphs">A</tspan><tspan x="61.09" textLength="5.74" lengthAdjust="spacingAndGlyphs">&#8211;</tspan><tspan x="67.15" textLength="25.52" lengthAdjust="spacingAndGlyphs">4100</tspan><tspan x="92.99" textLength="5.74" lengthAdjust="spacingAndGlyphs">D</tspan><tspan x="99.05" textLength="38.28" lengthAdjust="spacingAndGlyphs">240201</tspan><tspan x="137.65" textLength="5.74" lengthAdjust="spacingAndGlyphs">Z</tspan></text>
<text class="tb" y="563.2" font-size="20"><tspan x="167.03" textLength="36.75" lengthAdjust="spacingAndGlyphs">12500</tspan></text>
<text class="tb" y="563.2" font-size="20"><tspan x="226.3" textLength="7.2" lengthAdjust="spacingAndGlyphs">0</tspan><tspan x="234.36">.</tspan><tspan x="240.7" textLength="7.2" lengthAdjust="spacingAndGlyphs">2</tspan><tspan x="248.26" textLength="6.48" lengthAdjust="spacingAndGlyphs">&#8211;</tspan><tspan x="255.1" textLength="14.4" lengthAdjust="spacingAndGlyphs">45</tspan></text>
<text class="tb" y="563.2" font-size="20"><tspan x="283.04" textLength="14.76" lengthAdjust="spacingAndGlyphs">26</tspan><tspan x="298.69">.</tspan><tspan x="305.18" textLength="7.38" lengthAdjust="spacingAndGlyphs">5</tspan></text>
<text class="tb" y="563.2" font-size="20"><tspan x="338" textLength="14.5" lengthAdjust="spacingAndGlyphs">23</tspan><tspan x="353.37">.</tspan><tspan x="359.75" textLength="7.25" lengthAdjust="spacingAndGlyphs">5</tspan></text>
<text class="tb" y="563.2" font-size="20"><tspan x="392.04" textLength="28.32" lengthAdjust="spacingAndGlyphs">4081</tspan></text>
<text class="tb" y="563.2" font-size="20"><tspan class="lt" x="440.69" textLength="4.07" lengthAdjust="spacingAndGlyphs">G</tspan><tspan class="lt" x="445.21" textLength="4.07" lengthAdjust="spacingAndGlyphs">M</tspan><tspan class="lt" x="449.73" textLength="4.07" lengthAdjust="spacingAndGlyphs">1</tspan><tspan x="454.25" textLength="4.07" lengthAdjust="spacingAndGlyphs">&#8211;</tspan><tspan x="458.54" textLength="13.56" lengthAdjust="spacingAndGlyphs">150</tspan><tspan x="472.33" textLength="4.07" lengthAdjust="spacingAndGlyphs">D</tspan><tspan x="476.62" textLength="27.12" lengthAdjust="spacingAndGlyphs">240201</tspan></text>
<text class="tb" y="563.2" font-size="20"><tspan x="533.73" textLength="17.55" lengthAdjust="spacingAndGlyphs">154</tspan></text>
<text class="tb" y="563.2" font-size="20"><tspan x="602.23" textLength="18.75" lengthAdjust="spacingAndGlyphs">210</tspan></text>
<text class="tb" y="563.2" font-size="20"><tspan x="673.25" textLength="7.1" lengthAdjust="spacingAndGlyphs">8</tspan><tspan x="682.48" textLength="9.94" lengthAdjust="spacingAndGlyphs">~</tspan><tspan x="694.55" textLength="14.2" lengthAdjust="spacingAndGlyphs">10</tspan></text>
</svg>
</div></body></html>
